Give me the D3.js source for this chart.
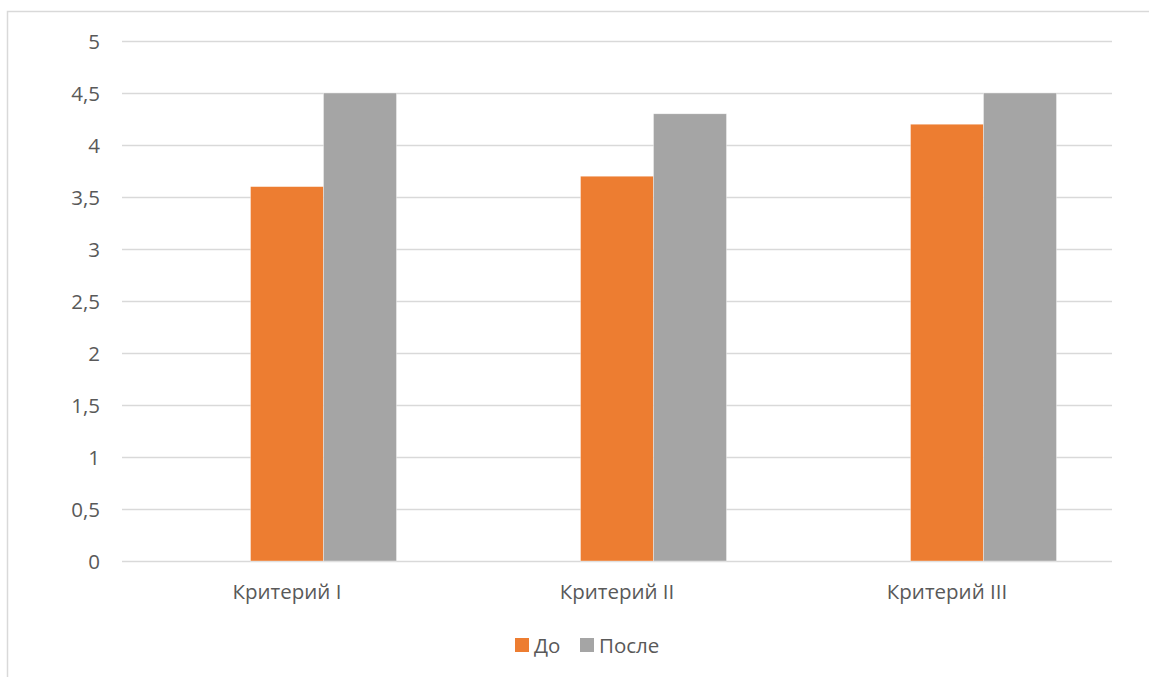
<!DOCTYPE html>
<html><head><meta charset="utf-8">
<script src="https://cdn.jsdelivr.net/npm/d3@7"></script>
<style>
html,body{margin:0;padding:0;background:#fff;}
svg{display:block;}
text{font-family:"Open Sans",sans-serif;fill:#595959;}
</style></head>
<body>
<svg id="chart" width="1149" height="677"></svg>
<script>
const categories = ["Критерий I", "Критерий II", "Критерий III"];
const seriesNames = ["До", "После"];
const seriesBefore = [3.6, 3.7, 4.2];
const seriesAfter = [4.5, 4.3, 4.5];
const yTicks = [0, 0.5, 1, 1.5, 2, 2.5, 3, 3.5, 4, 4.5, 5];
const colors = ["#ED7D31", "#A5A5A5"];
// slot 0 is an empty series slot in the source chart
const slots = ["", "До", "После"];

const svg = d3.select("#chart");
const W = 1149, H = 677;

// chart area border
svg.append("path")
  .attr("d", `M7.5,${H} V11.5 H${W}`)
  .attr("fill", "none").attr("stroke", "#d9d9d9").attr("stroke-width", 1.5);

const plot = {left: 122, right: 1112, top: 41, bottom: 561};

const x = d3.scaleBand().domain(categories).range([plot.left, plot.right]).paddingInner(0.3364).paddingOuter(0.1682);
const xi = d3.scaleBand().domain(slots).range([0, x.bandwidth()]);
const y = d3.scaleLinear().domain([0, 5]).range([plot.bottom, plot.top]);

// gridlines
svg.append("g").selectAll("line").data(yTicks).join("line")
  .attr("x1", plot.left).attr("x2", plot.right)
  .attr("y1", d => Math.round(y(d)) + 0.5).attr("y2", d => Math.round(y(d)) + 0.5)
  .attr("stroke", "#d9d9d9").attr("stroke-width", 1.3);

// y axis labels
const fmt = d => String(d).replace(".", ",");
const yAxis = d3.axisLeft(y).tickValues(yTicks).tickFormat(fmt).tickSize(0).tickPadding(0);
const gy = svg.append("g").attr("transform", `translate(100,0)`).call(yAxis);
gy.select(".domain").remove();
gy.selectAll("text").style("font-size", "20.5px").style("font-family", "'Open Sans',sans-serif").attr("fill", "#595959").attr("dy", "0.36em");

// bars
const data = categories.map((c, i) => ({cat: c, values: [
  {s: "До", v: seriesBefore[i], c: colors[0]},
  {s: "После", v: seriesAfter[i], c: colors[1]}
]}));
const groups = svg.append("g").selectAll("g").data(data).join("g")
  .attr("transform", d => `translate(${x(d.cat)},0)`);
groups.selectAll("rect").data(d => d.values).join("rect")
  .attr("x", d => xi(d.s)).attr("width", xi.bandwidth())
  .attr("y", d => y(d.v)).attr("height", d => y(0) - y(d.v))
  .attr("fill", d => d.c).attr("stroke", "#fff").attr("stroke-width", 0.6).attr("stroke-opacity", 0.6);

// x axis labels
const xAxis = d3.axisBottom(d3.scaleBand().domain(categories).range([plot.left, plot.right])).tickSize(0).tickPadding(0);
const gx = svg.append("g").attr("transform", `translate(0,599)`).call(xAxis);
gx.select(".domain").remove();
gx.selectAll("text").style("font-size", "20.5px").style("font-family", "'Open Sans',sans-serif").attr("fill", "#595959").attr("dy", "0").attr("y", 0);

// legend
const legendX = [515, 580];
const leg = svg.append("g").selectAll("g").data(seriesNames).join("g")
  .attr("transform", (d, i) => `translate(${legendX[i]},638)`);
leg.append("rect").attr("width", 14).attr("height", 14).attr("fill", (d, i) => colors[i]);
leg.append("text").attr("x", 19).attr("y", 14.5)
  .style("font-size", "20.5px").text(d => d);
</script>
</body></html>
